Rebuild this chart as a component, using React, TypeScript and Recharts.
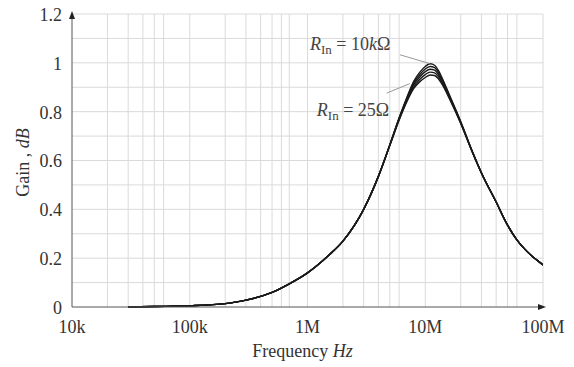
import { LineChart, Line, XAxis, YAxis, CartesianGrid, ReferenceLine, ReferenceDot, Label } from 'recharts'

// frequency points (Hz)
const freqs = [
  3e4, 5e4, 1e5, 2e5, 3e5, 5e5, 7e5, 1e6, 1.5e6, 2e6, 3e6, 4e6, 5e6, 6e6, 7e6, 8e6, 9e6,
  1e7, 1.1e7, 1.2e7, 1.3e7, 1.4e7, 1.6e7, 2e7, 2.5e7, 3e7, 4e7, 5e7, 6e7, 7e7, 8e7, 9e7, 1e8,
]

// gain curves for the different input resistances (top = 10kΩ, bottom = 25Ω)
const gainA = [
  0, 0.002, 0.005, 0.014, 0.028, 0.06, 0.095, 0.14, 0.21, 0.27, 0.4, 0.535, 0.665, 0.775, 0.86, 0.925, 0.962,
  0.985, 0.996, 0.99, 0.967, 0.935, 0.87, 0.76, 0.64, 0.55, 0.43, 0.335, 0.275, 0.237, 0.21, 0.19, 0.172,
]
const gainB = [
  0, 0.002, 0.005, 0.014, 0.028, 0.06, 0.095, 0.14, 0.21, 0.27, 0.4, 0.535, 0.664, 0.773, 0.856, 0.918, 0.952,
  0.975, 0.985, 0.98, 0.959, 0.93, 0.866, 0.758, 0.639, 0.55, 0.43, 0.335, 0.275, 0.237, 0.21, 0.19, 0.172,
]
const gainC = [
  0, 0.002, 0.005, 0.014, 0.028, 0.06, 0.095, 0.14, 0.21, 0.27, 0.4, 0.535, 0.663, 0.771, 0.852, 0.911, 0.943,
  0.964, 0.974, 0.97, 0.951, 0.924, 0.862, 0.756, 0.638, 0.549, 0.43, 0.335, 0.275, 0.237, 0.21, 0.19, 0.172,
]
const gainD = [
  0, 0.002, 0.005, 0.014, 0.028, 0.06, 0.095, 0.14, 0.21, 0.27, 0.4, 0.535, 0.662, 0.768, 0.847, 0.903, 0.933,
  0.952, 0.962, 0.959, 0.942, 0.917, 0.858, 0.754, 0.637, 0.549, 0.43, 0.335, 0.275, 0.237, 0.21, 0.19, 0.172,
]
const gainE = [
  0, 0.002, 0.005, 0.014, 0.028, 0.06, 0.095, 0.14, 0.21, 0.27, 0.4, 0.535, 0.661, 0.765, 0.842, 0.895, 0.923,
  0.94, 0.95, 0.948, 0.933, 0.91, 0.854, 0.752, 0.636, 0.548, 0.43, 0.335, 0.275, 0.237, 0.21, 0.19, 0.172,
]
const series = [gainA, gainB, gainC, gainD, gainE]

const xTicks = [1e4, 1e5, 1e6, 1e7, 1e8]
const xTickLabels = ['10k', '100k', '1M', '10M', '100M']
const yTicks = [0, 0.2, 0.4, 0.6, 0.8, 1, 1.2]
const yTickLabels = ['0', '0.2', '0.4', '0.6', '0.8', '1', '1.2']

const xGrid = [
  2e4, 3e4, 4e4, 5e4, 6e4, 7e4, 8e4, 9e4, 1e5, 2e5, 3e5, 4e5, 5e5, 6e5, 7e5, 8e5, 9e5, 1e6,
  2e6, 3e6, 4e6, 5e6, 6e6, 7e6, 8e6, 9e6, 1e7, 2e7, 3e7, 4e7, 5e7, 6e7, 7e7, 8e7, 9e7, 1e8,
]
const yGrid = [0.1, 0.2, 0.3, 0.4, 0.5, 0.6, 0.7, 0.8, 0.9, 1, 1.1, 1.2]

const data = freqs.map((f, i) => {
  const row: any = { f }
  series.forEach((s, k) => (row['g' + k] = s[i]))
  return row
})

const FONT = '"Liberation Serif", serif'
const TXT = '#333'

const YTick = ({ x, y, payload }: any) => (
  <text x={x} y={y} dy="0.38em" textAnchor="end" fontFamily={FONT} fontSize={18} fill={TXT}>
    {yTickLabels[yTicks.indexOf(payload.value)]}
  </text>
)

const RinLabel = ({ cx, cy, value }: any) => (
  <text x={cx} y={cy} dy="0.35em" fontFamily={FONT} fontSize={18} fill="#444">
    <tspan fontStyle="italic">R</tspan>
    <tspan fontSize={13} dy="4">In</tspan>
    <tspan dy="-4">{' = '}</tspan>
    {value}
  </text>
)

const ArrowUp = ({ cx, cy }: any) => (
  <path d={`M${cx},${cy - 3} L${cx - 3},${cy + 5} L${cx + 3},${cy + 5} Z`} fill="#222" />
)
const ArrowRight = ({ cx, cy }: any) => (
  <path d={`M${cx + 3},${cy} L${cx - 5},${cy - 3} L${cx - 5},${cy + 3} Z`} fill="#222" />
)

export default function App() {
  return (
    <div style={{ position: 'relative', top: -8, left: -8, width: 574, height: 367, background: '#fff' }}>
      <LineChart width={574} height={367} data={data} margin={{ top: 14, right: 31, left: 0, bottom: 15 }}>
        <CartesianGrid stroke="#dadada" horizontalValues={yGrid} verticalValues={xGrid} />
        <XAxis
          dataKey="f"
          type="number"
          scale="log"
          domain={[1e4, 1e8]}
          ticks={xTicks}
          tickFormatter={(v) => xTickLabels[xTicks.indexOf(v)]}
          tickLine={false}
          stroke="#555"
          height={45}
          tick={{ fill: TXT, fontFamily: FONT, fontSize: 18 }}
          tickMargin={7}
          allowDataOverflow
        >
          <Label
            content={({ viewBox }: any) => (
              <text x={viewBox.x + viewBox.width / 2 - 5} y={viewBox.y + 50} textAnchor="middle" fontFamily={FONT} fontSize={18} fill={TXT}>
                Frequency <tspan fontStyle="italic">Hz</tspan>
              </text>
            )}
          />
        </XAxis>
        <YAxis
          type="number"
          domain={[0, 1.2]}
          ticks={yTicks}
          width={72}
          tickLine={false}
          stroke="#555"
          tick={<YTick />}
          tickMargin={4}
        >
          <Label
            content={({ viewBox }: any) => {
              const cx = 23
              const cy = viewBox.y + viewBox.height / 2 + 2
              return (
                <text x={cx} y={cy} transform={`rotate(-90 ${cx} ${cy})`} textAnchor="middle" dy="0.35em" fontFamily={FONT} fontSize={18} fill={TXT}>
                  Gain , <tspan fontStyle="italic">dB</tspan>
                </text>
              )
            }}
          />
        </YAxis>
        {series.map((_, k) => (
          <Line key={k} dataKey={'g' + k} type="monotone" stroke="#1a1a1a" strokeWidth={1.4} dot={false} isAnimationActive={false} />
        ))}
        <ReferenceLine segment={[{ x: 6.1e6, y: 1.033 }, { x: 1.09e7, y: 0.997 }]} stroke="#999" strokeWidth={1} />
        <ReferenceLine segment={[{ x: 4.7e6, y: 0.876 }, { x: 7.4e6, y: 0.915 }]} stroke="#999" strokeWidth={1} />
        <ReferenceDot x={1.05e6} y={1.08} r={0} shape={(p: any) => <RinLabel {...p} value={<>10<tspan fontStyle="italic">k</tspan>Ω</>} />} />
        <ReferenceDot x={1.2e6} y={0.81} r={0} shape={(p: any) => <RinLabel {...p} value="25Ω" />} />
        <ReferenceDot x={1e4} y={1.2} r={0} shape={ArrowUp} ifOverflow="visible" />
        <ReferenceDot x={1e8} y={0} r={0} shape={ArrowRight} ifOverflow="visible" />
      </LineChart>
    </div>
  )
}
